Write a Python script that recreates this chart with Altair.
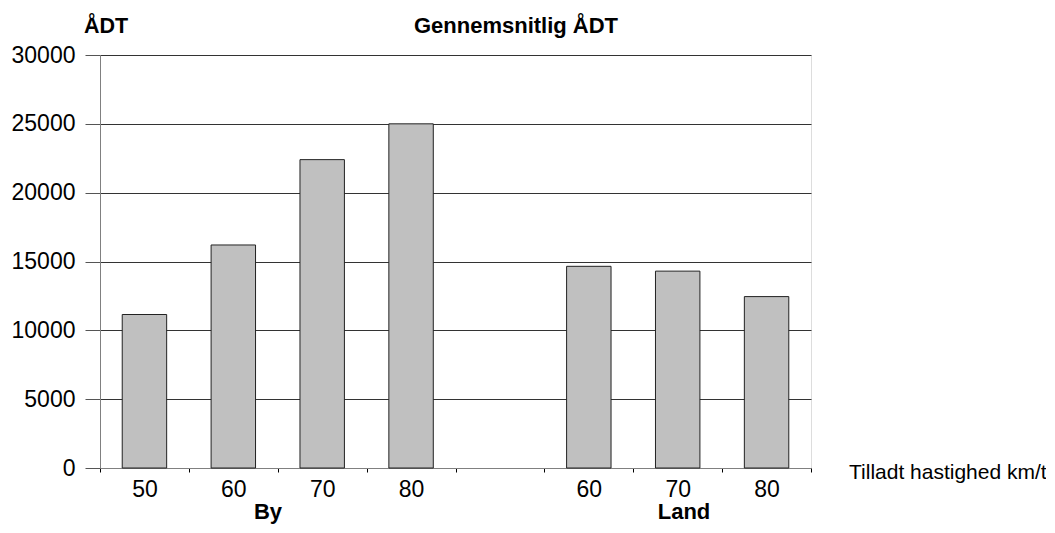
import altair as alt
import pandas as pd

categories = ["By 50", "By 60", "By 70", "By 80", "", "Land 60", "Land 70", "Land 80"]
tick_labels = ["50", "60", "70", "80", "", "60", "70", "80"]
values = [11150, 16200, 22400, 25000, None, 14650, 14300, 12450]

df = pd.DataFrame({"cat": categories, "label": tick_labels, "value": values})
bars_df = df.dropna(subset=["value"])

label_map = {c: l for c, l in zip(categories, tick_labels)}
label_expr = " : ".join(
    [f"datum.value == '{c}' ? '{l}'" for c, l in label_map.items()]
) + " : ''"

FONT = "Liberation Sans"

xscale = alt.Scale(domain=categories, paddingInner=0, paddingOuter=0)
yscale = alt.Scale(domain=[0, 30000])

bars = alt.Chart(bars_df).mark_bar(
    fill="#c0c0c0", stroke="#222222", strokeWidth=1,
    width=alt.RelativeBandSize(0.5)
).encode(
    x=alt.X("cat:N", scale=xscale, sort=categories,
            axis=alt.Axis(title=None, labelExpr=label_expr, labelAngle=0,
                          labelFont=FONT, labelFontSize=23, labelColor="#000000",
                          labelPadding=6, tickBand="extent", ticks=True,
                          tickSize=4, tickColor="#000000", domainColor="#808080",
                          grid=False)),
    y=alt.Y("value:Q", scale=yscale,
            axis=alt.Axis(title=None, values=[0, 5000, 10000, 15000, 20000, 25000, 30000],
                          format="d", labelFont=FONT, labelFontSize=23,
                          labelColor="#000000", labelPadding=10, tickSize=15,
                          tickColor="#555555", domainColor="#808080",
                          grid=True, gridColor="#333333", gridWidth=1,
                          gridOpacity=1)),
)


def txt(s, x, y, size, bold=True, align="center"):
    return alt.Chart(pd.DataFrame({"t": [s]})).mark_text(
        font=FONT, fontSize=size, fontWeight="bold" if bold else "normal",
        align=align, baseline="alphabetic", color="#000000"
    ).encode(x=alt.value(x), y=alt.value(y), text="t:N")

ann = (
    txt("ÅDT", -16, -22, 21.5, align="left")
    + txt("Gennemsnitlig ÅDT", 416, -22, 22)
    + txt("By", 168, 464, 22)
    + txt("Land", 584, 464, 22)
    + txt("Tilladt hastighed km/t", 749, 424, 21, bold=False, align="left")
)

chart = (bars + ann).properties(
    width=711, height=413,
    autosize=alt.AutoSizeParams(type="none"),
    padding={"left": 92, "top": 47, "right": 235, "bottom": 57},
).configure_view(stroke=None).configure(background="#ffffff")

chart.save("out.html", embed_options={"renderer": "svg", "actions": False})
